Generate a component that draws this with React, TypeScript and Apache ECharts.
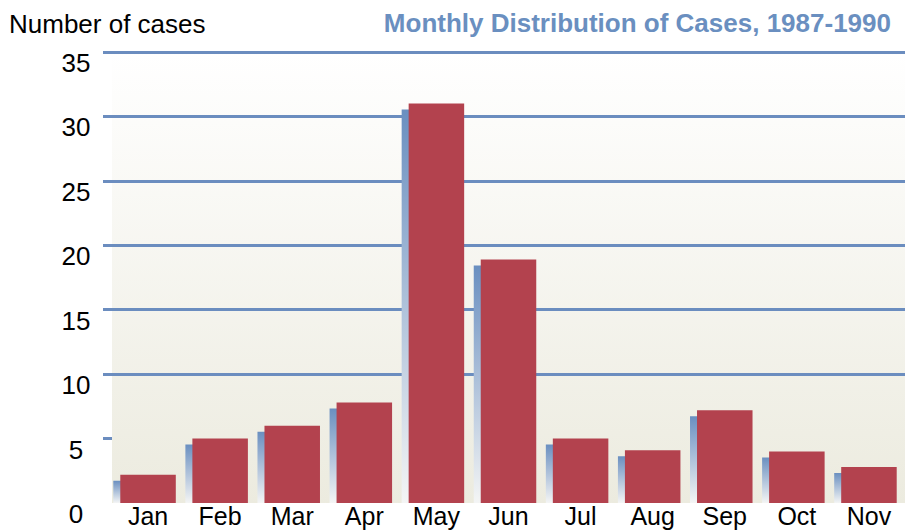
import React, { useEffect, useRef } from "react";
import * as echarts from "echarts";

const months = ["Jan", "Feb", "Mar", "Apr", "May", "Jun", "Jul", "Aug", "Sep", "Oct", "Nov"];
const cases = [2.2, 5, 6, 7.8, 31, 18.9, 5, 4.1, 7.2, 4, 2.8];
const yTicks = [5, 10, 15, 20, 25, 30, 35];

const FONT = "'Liberation Sans', Arial, sans-serif";
const BLUE = "#6b8dbf";
const RED = "#b3424e";

export default function App() {
  const ref = useRef<HTMLDivElement>(null);

  useEffect(() => {
    if (!ref.current) return;
    const chart = echarts.init(ref.current, undefined, { renderer: "svg" });

    const shadowFill = new echarts.graphic.LinearGradient(0, 0, 0, 1, [
      { offset: 0, color: "#6a8fc0" },
      { offset: 1, color: "#f4f5f5" },
    ]);

    chart.setOption({
      animation: false,
      backgroundColor: "#ffffff",
      title: [
        {
          text: "Number of cases",
          left: 9,
          top: 11,
          padding: 0,
          textStyle: { fontFamily: FONT, fontSize: 26, fontWeight: "normal", color: "#000000", lineHeight: 26 },
        },
        {
          text: "Monthly Distribution of Cases, 1987-1990",
          right: 21,
          top: 10,
          padding: 0,
          textStyle: { fontFamily: FONT, fontSize: 26, fontWeight: "bold", color: "#6a8fc0", lineHeight: 26 },
        },
      ],
      grid: {
        left: 112,
        right: 7,
        top: 52,
        height: 451,
        show: true,
        borderWidth: 0,
        backgroundColor: new echarts.graphic.LinearGradient(0, 0, 0, 1, [
          { offset: 0, color: "#ffffff" },
          { offset: 1, color: "#ecebdf" },
        ]),
      },
      xAxis: {
        type: "category",
        data: months,
        axisLine: { show: false },
        axisTick: { show: false },
        axisLabel: { fontFamily: FONT, fontSize: 25, color: "#000000", margin: 3, lineHeight: 20 },
      },
      yAxis: {
        type: "value",
        min: 0,
        max: 35,
        interval: 5,
        axisLine: { show: false },
        axisTick: {
          show: true,
          length: 9,
          customValues: yTicks,
          lineStyle: { color: BLUE, width: 3 },
        },
        splitLine: {
          show: true,
          lineStyle: {
            color: ["rgba(0,0,0,0)", BLUE, BLUE, BLUE, BLUE, BLUE, BLUE, BLUE],
            width: 3,
          },
        },
        axisLabel: {
          fontFamily: FONT,
          fontSize: 26,
          color: "#000000",
          align: "center",
          verticalAlign: "top",
          lineHeight: 22,
          margin: 36,
        },
      },
      series: [
        {
          type: "custom",
          data: cases.map((v, i) => [i, v]),
          encode: { x: 0, y: 1 },
          z: 5,
          renderItem: (params: any, api: any) => {
            const i = api.value(0);
            const v = api.value(1);
            const top = api.coord([i, v]);
            const base = api.coord([i, 0]);
            const band = api.size([1, 0])[0];
            const w = band * 0.77;
            const x = top[0] - w / 2;
            const h = base[1] - top[1];
            return {
              type: "group",
              children: [
                {
                  type: "rect",
                  shape: { x: x - 7, y: top[1] + 6, width: w, height: Math.max(h - 6, 0) },
                  style: { fill: shadowFill },
                },
                {
                  type: "rect",
                  shape: { x, y: top[1], width: w, height: h },
                  style: { fill: RED },
                },
              ],
            };
          },
        },
      ],
    });

    return () => chart.dispose();
  }, []);

  return (
    <div
      ref={ref}
      style={{ position: "fixed", left: 0, top: 0, width: 912, height: 531 }}
    />
  );
}
